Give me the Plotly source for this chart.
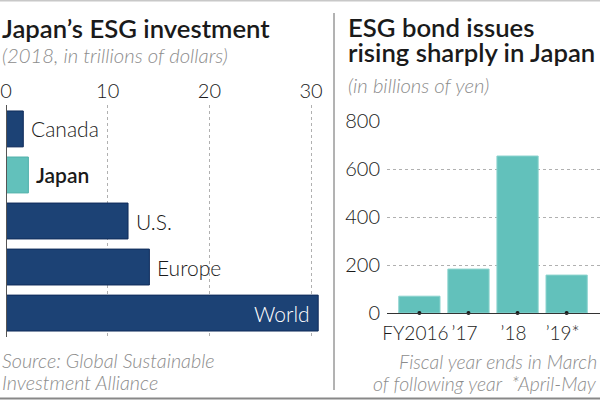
import plotly.graph_objects as go

# Left chart data
regions = ["Canada", "Japan", "U.S.", "Europe", "World"]
esg_trillions = [1.7, 2.2, 12.0, 14.1, 30.7]
left_ticks = [0, 10, 20, 30]

# Right chart data
fiscal_years = ["FY2016", "’17", "’18", "’19*"]
bond_billions_yen = [70, 183, 654, 158]
right_ticks = [0, 200, 400, 600, 800]

NAVY = "#1c4275"
TEAL = "#62c1bb"
GRAY = "#8c8c8c"
DARK = "#1a1a1a"
FONT = "Lato"

fig = go.Figure()

left_colors = [TEAL if r == "Japan" else NAVY for r in regions]
left_line = ["#4fb0aa" if r == "Japan" else "#0f2b5a" for r in regions]

fig.add_trace(go.Bar(
    x=esg_trillions, y=list(range(len(regions))), orientation="h",
    marker=dict(color=left_colors, line=dict(color=left_line, width=1)),
    width=0.78, xaxis="x", yaxis="y", showlegend=False, hoverinfo="skip",
))

fig.add_trace(go.Bar(
    x=list(range(len(fiscal_years))), y=bond_billions_yen,
    marker=dict(color=TEAL, line=dict(color="#8ad3ce", width=1)),
    width=0.84, xaxis="x2", yaxis="y2", showlegend=False, hoverinfo="skip",
))
fig.add_trace(go.Scatter(
    x=list(range(len(fiscal_years))), y=[0] * len(fiscal_years), mode="markers",
    marker=dict(color=DARK, size=4), cliponaxis=False,
    xaxis="x2", yaxis="y2", showlegend=False, hoverinfo="skip",
))

tickfont = dict(family=FONT, size=20, color=DARK, weight=300)

fig.update_layout(
    width=600, height=400, autosize=False,
    margin=dict(l=0, r=0, t=0, b=0, pad=0, autoexpand=False),
    paper_bgcolor="white", plot_bgcolor="white",
    font=dict(family=FONT, color=DARK),
    xaxis=dict(
        domain=[6 / 600, 330 / 600], range=[0, 31.86], side="top",
        tickvals=left_ticks, ticks="", ticklabelstandoff=2, tickangle=0,
        tickfont=tickfont,
        showgrid=True, gridcolor="#b0b0b0", griddash="dot", gridwidth=1,
        zeroline=False, showline=False, anchor="y", automargin=False,
    ),
    yaxis=dict(
        domain=[1 - 337 / 400, 1 - 105 / 400], range=[4.52, -0.52],
        showticklabels=False, showgrid=False, zeroline=False, ticks="",
        showline=False, anchor="x", automargin=False,
    ),
    xaxis2=dict(
        domain=[387 / 600, 1], range=[-0.66, 3.68],
        tickvals=list(range(len(fiscal_years))), ticktext=fiscal_years,
        ticks="", tickangle=0, tickfont=dict(tickfont, size=19),
        ticklabelshift=-4, ticklabelstandoff=3,
        showgrid=False, zeroline=False, showline=True, linecolor="#333333", linewidth=1,
        anchor="y2", automargin=False,
    ),
    yaxis2=dict(
        domain=[1 - 313 / 400, 1 - 121 / 400], range=[0, 800],
        tickvals=right_ticks, ticks="", ticklabelstandoff=6,
        tickfont=tickfont,
        showgrid=True, gridcolor="#b0b0b0", griddash="dot", gridwidth=1,
        zeroline=False, showline=False, anchor="x2", automargin=False,
    ),
    bargap=0.2,
)

shapes = [
    dict(type="line", xref="paper", yref="paper", x0=6.5 / 600, x1=6.5 / 600,
         y0=1 - 337 / 400, y1=1 - 105 / 400, line=dict(color="#555555", width=1)),
    dict(type="line", xref="paper", yref="paper", x0=334 / 600, x1=334 / 600,
         y0=1 - 390 / 400, y1=1 - 13 / 400, line=dict(color="#666666", width=1)),
    dict(type="line", xref="paper", yref="paper", x0=0, x1=1, y0=1 - 0.5 / 400, y1=1 - 0.5 / 400,
         line=dict(color="#c8c8c8", width=2)),
    dict(type="line", xref="paper", yref="paper", x0=0, x1=1, y0=1 - 398.5 / 400, y1=1 - 398.5 / 400,
         line=dict(color="#888888", width=2)),
]
fig.update_layout(shapes=shapes)

def txt(text, x, y, size, color=DARK, weight=300, italic=False, xanchor="left", yanchor="middle"):
    if italic:
        text = "<i>" + text + "</i>"
    return dict(text=text, x=x / 600, y=1 - y / 400, xref="paper", yref="paper",
                xanchor=xanchor, yanchor=yanchor, showarrow=False,
                font=dict(family=FONT, size=size, color=color, weight=weight))

annotations = [
    txt("Japan’s ESG investment", 0, 28, 25.7, weight=600),
    txt("(2018, in trillions of dollars)", 0, 55, 20.3, color=GRAY, italic=True),
    txt("ESG bond issues", 346, 26.5, 25.7, weight=600),
    txt("rising sharply in Japan", 346, 52.5, 25.7, weight=600),
    txt("(in billions of yen)", 346, 85, 20.3, color=GRAY, italic=True),
    txt("Source: Global Sustainable", 0, 360, 19.8, color=GRAY, italic=True),
    txt("Investment Alliance", 0, 382, 19.8, color=GRAY, italic=True),
    txt("Fiscal year ends in March", 599, 361, 19.4, color=GRAY, italic=True, xanchor="right"),
    txt("of following year  *April-May", 599, 383, 19.4, color=GRAY, italic=True, xanchor="right"),
]

# bar labels placed through the left chart's data scales
for i, (name, val) in enumerate(zip(regions, esg_trillions)):
    inside = name == "World"
    annotations.append(dict(
        text=name, x=val, y=i, xref="x", yref="y", showarrow=False,
        xanchor="right" if inside else "left", yanchor="middle",
        xshift=-6 if inside else 6,
        font=dict(family=FONT, size=21, color="white" if inside else DARK,
                  weight=600 if name == "Japan" else 300),
    ))

fig.update_layout(annotations=annotations)

fig.write_html("out.html", config={"displayModeBar": False},
               post_script="document.body.style.margin='0';")
